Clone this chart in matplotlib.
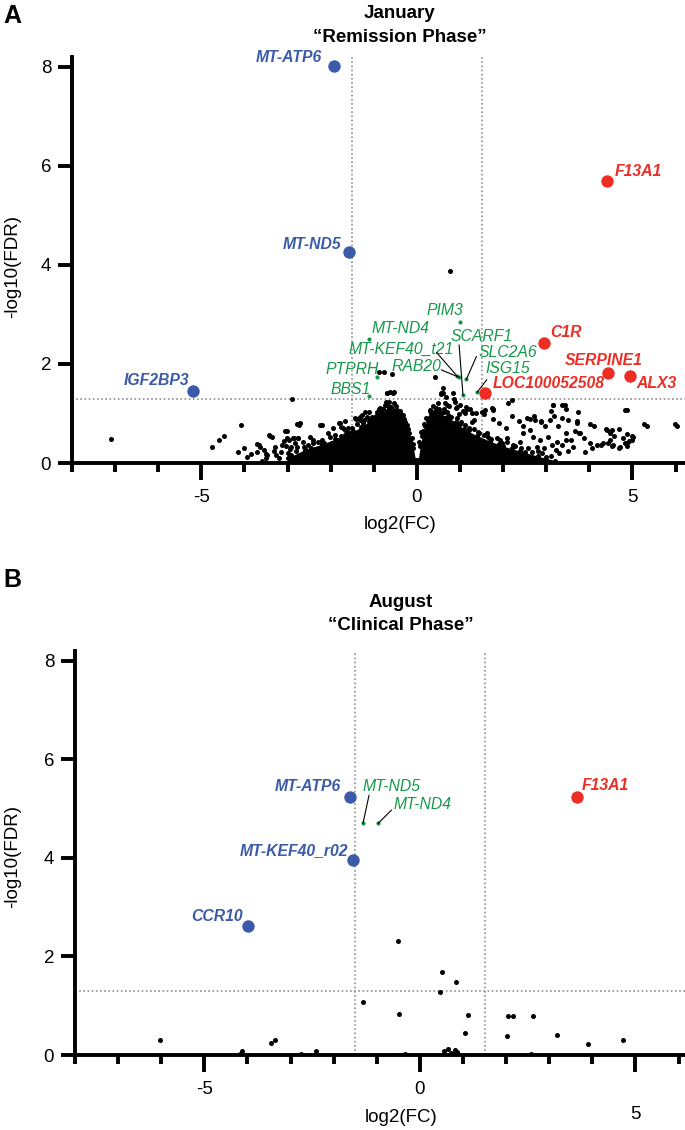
import matplotlib
matplotlib.use("Agg")
import matplotlib.pyplot as plt

#===================================================================#
#                              DATA                                 #
#===================================================================#

# panel A (January) - highlighted genes
down_a_names = ["MT-ATP6", "MT-ND5", "IGF2BP3"]
down_a_x = [-1.93, -1.58, -5.20]
down_a_y = [8.02, 4.26, 1.45]

up_a_names = ["F13A1", "C1R", "SERPINE1", "ALX3", "LOC100052508"]
up_a_x = [4.41, 2.95, 4.44, 4.94, 1.58]
up_a_y = [5.70, 2.42, 1.82, 1.76, 1.41]

mid_a_names = ["PIM3", "MT-ND4", "PTPRH", "BBS1", "MT-KEF40_t21", "RAB20", "SLC2A6", "SCARF1", "ISG15"]
mid_a_x = [1.01, -1.11, -0.92, -1.10, 0.94, 0.98, 1.15, 1.07, 1.40]
mid_a_y = [2.85, 2.51, 1.74, 1.35, 1.75, 1.73, 1.69, 1.37, 1.43]

# dense core of the January cloud (outline of the solid black area)
core_left_x = [-3.0, -2.6, -2.2, -1.9, -1.6, -1.3, -1.1, -0.9, -0.7, -0.55, -0.4, -0.3, -0.2, -0.1, -0.03]
core_left_y = [0.10, 0.27, 0.38, 0.48, 0.58, 0.72, 0.85, 0.97, 1.05, 1.08, 1.00, 0.88, 0.68, 0.38, 0.06]
core_right_x = [0.03, 0.08, 0.15, 0.25, 0.40, 0.55, 0.70, 0.90, 1.10, 1.40, 1.70, 2.00, 2.40, 2.80, 3.20]
core_right_y = [0.06, 0.35, 0.65, 0.85, 0.98, 1.00, 0.93, 0.82, 0.68, 0.55, 0.44, 0.34, 0.24, 0.14, 0.05]

# other January genes (x, y)
cloud_a = [
    (-7.09, 0.48),
    (-4.76, 0.32), (-4.60, 0.46), (-4.47, 0.55), (-4.09, 0.76), (-4.14, 0.22), (-4.01, 0.30),
    (-3.71, 0.38), (-3.67, 0.37), (-3.71, 0.23), (-3.48, 0.16), (-3.40, 0.55), (-3.36, 0.52),
    (-3.31, 0.25), (-3.27, 0.16), (-3.06, 0.65), (-3.02, 0.51), (-2.96, 0.47), (-3.08, 0.44),
    (-3.04, 0.34), (-2.91, 0.32), (-2.83, 0.41), (-2.75, 0.50), (-2.79, 0.78), (-2.71, 0.80),
    (-2.89, 1.29), (-2.99, 0.20), (-2.91, 0.17), (-3.64, 0.32), (-3.49, 0.19), (-3.42, 0.56),
    (-3.12, 0.37), (-3.02, 0.64), (-2.85, 0.50), (-2.74, 0.76),
    (-2.57, 0.27), (-2.52, 0.37), (-2.41, 0.47), (-2.36, 0.16), (-2.21, 0.77), (-2.11, 0.24),
    (-2.06, 0.34), (-1.96, 0.41), (-1.81, 0.81), (-1.66, 0.85), (-1.56, 0.61), (-1.51, 0.71),
    (-1.41, 0.88), (-1.31, 0.93), (-1.11, 1.02), (-0.86, 1.12), (-0.70, 1.42), (-0.55, 1.41),
    (-0.75, 1.18), (-0.50, 1.05), (-0.45, 1.02), (-0.87, 1.84), (-0.77, 1.84), (-0.57, 1.79),
    (-0.69, 1.41), (-0.63, 1.44), (-0.53, 1.44), (-0.64, 1.24), (-0.59, 1.14), (-0.47, 1.07),
    (-0.43, 0.97), (-0.87, 1.10), (-0.82, 1.00), (-1.75, 0.73), (-1.67, 0.67), (-1.59, 0.70),
    (-1.67, 0.57), (-1.55, 0.53), (-1.86, 0.46), (-2.25, 0.77), (-1.94, 0.70), (-2.06, 0.60),
    (-2.48, 0.53), (-2.75, 0.50), (-2.64, 0.43), (-2.87, 0.50), (-2.79, 0.33), (-2.41, 0.40),
    (-2.21, 0.46), (-1.28, 0.97), (-1.21, 1.04), (-1.44, 0.90), (-1.09, 0.87), (-0.97, 0.80),
    (-1.32, 0.87), (-1.79, 0.80), (-1.71, 0.70), (-1.63, 0.60), (-0.86, 1.07), (-0.82, 0.97),
    (-1.00, 0.85), (-0.95, 0.95), (-0.80, 1.00), (-0.65, 1.12), (-0.35, 0.90), (-0.25, 0.70),
    (-0.15, 0.45), (-3.50, 0.10), (-3.20, 0.10), (-2.70, 0.15), (-2.50, 0.12), (-2.30, 0.25),
    (-2.00, 0.20), (-1.80, 0.30),
    # grainy edge of the left lobe
    (-2.95, 0.28), (-2.80, 0.24), (-2.62, 0.33), (-2.45, 0.31), (-2.30, 0.42), (-2.15, 0.40),
    (-2.02, 0.52), (-1.90, 0.57), (-1.76, 0.55), (-1.62, 0.66), (-1.48, 0.64), (-1.38, 0.78),
    (-1.25, 0.80), (-1.16, 0.92), (-1.03, 0.93), (-0.93, 1.03), (-0.78, 1.09), (-0.68, 1.15),
    (-0.60, 1.06), (-0.48, 1.15), (-0.38, 1.06), (-0.32, 0.96), (-0.27, 0.82), (-0.22, 0.76),
    (-0.18, 0.60), (-0.12, 0.50), (-0.08, 0.30), (-0.72, 1.24), (-0.52, 1.22), (-1.22, 0.86),
    (-3.30, 0.32), (-3.15, 0.22), (-3.55, 0.27), (-3.85, 0.18), (-3.95, 0.12), (-3.60, 0.05),
    (0.42, 1.74), (0.61, 1.51), (0.57, 1.41), (0.67, 1.34), (0.84, 1.41), (0.88, 1.24),
    (0.63, 1.10), (1.23, 1.10), (1.11, 1.00), (1.38, 1.00), (1.58, 1.07), (1.27, 0.83),
    (0.30, 1.07), (0.92, 1.14), (1.15, 1.14), (1.27, 1.00), (1.50, 1.04), (1.77, 1.10),
    (0.55, 1.39), (0.60, 1.42), (0.65, 1.22), (0.75, 1.15), (0.86, 1.29), (0.91, 1.12),
    (1.01, 1.18), (1.06, 1.05), (1.16, 1.10), (0.45, 1.12), (0.30, 1.05), (0.35, 0.95),
    (1.74, 1.12), (2.11, 1.22), (1.56, 0.98), (1.76, 0.88), (1.91, 0.81),
    (2.06, 0.71), (2.21, 0.95), (2.36, 0.85), (2.46, 0.74), (2.62, 0.88), (2.72, 0.95),
    (2.87, 0.85), (2.97, 0.74), (3.15, 1.18), (3.37, 1.18), (3.45, 1.10), (3.12, 1.05),
    (3.17, 0.95), (3.72, 0.85), (3.77, 0.61), (3.87, 0.51), (4.02, 0.78),
    (4.38, 0.68), (4.48, 0.61), (4.58, 0.54), (4.68, 0.68), (4.78, 0.51), (4.88, 0.58),
    (4.93, 0.44), (4.98, 0.54), (4.83, 1.08), (5.28, 0.78), (5.99, 0.78),
    (4.07, 0.30), (4.28, 0.37), (4.43, 0.41), (4.53, 0.34), (4.68, 0.30), (4.83, 0.41),
    (4.88, 0.35), (3.27, 0.74), (3.47, 0.61), (3.57, 0.47), (3.67, 0.64),
    (2.20, 1.27), (1.77, 1.08), (3.16, 1.17), (3.43, 1.17), (3.73, 1.04), (4.87, 1.07),
    (2.55, 0.90), (2.74, 0.87), (2.89, 0.83), (3.09, 0.87), (3.36, 0.90), (3.51, 0.87),
    (3.71, 0.80), (4.11, 0.75), (5.33, 0.75), (6.03, 0.75), (4.40, 0.67), (4.52, 0.67),
    (5.02, 0.53), (4.01, 0.40), (4.17, 0.36), (4.32, 0.40), (4.48, 0.46), (4.56, 0.36),
    (4.71, 0.33), (4.87, 0.40), (4.98, 0.46), (3.05, 0.53), (3.24, 0.43), (3.47, 0.46),
    (3.78, 0.60), (3.63, 0.33), (3.36, 0.36), (3.13, 0.36), (2.62, 0.67), (2.70, 0.53),
    (2.85, 0.46), (2.47, 0.60), (2.39, 0.43), (2.23, 0.36), (2.08, 0.50), (1.93, 0.46),
    (1.81, 0.33), (2.78, 0.33), (0.12, 0.55), (0.20, 0.75), (0.30, 0.92), (0.50, 1.02),
    (0.75, 0.95), (1.00, 0.78), (1.20, 0.70), (1.45, 0.60), (1.65, 0.52), (1.90, 0.38),
    (2.20, 0.30), (2.50, 0.22), (2.90, 0.20), (3.00, 0.12), (3.30, 0.20), (3.50, 0.25),
    (3.90, 0.22),
    # grainy edge of the right lobe
    (0.06, 0.42), (0.10, 0.62), (0.16, 0.78), (0.22, 0.90), (0.33, 1.00), (0.42, 1.06),
    (0.52, 1.10), (0.62, 1.02), (0.70, 1.04), (0.80, 0.92), (0.92, 0.90), (1.02, 0.82),
    (1.12, 0.76), (1.22, 0.66), (1.33, 0.68), (1.42, 0.62), (1.55, 0.56), (1.62, 0.60),
    (1.72, 0.49), (1.85, 0.50), (1.97, 0.40), (2.10, 0.42), (2.28, 0.34), (2.42, 0.30),
    (2.58, 0.31), (2.68, 0.22), (2.82, 0.24), (2.95, 0.30), (3.10, 0.15), (3.22, 0.27),
    (0.38, 1.15), (0.48, 1.22), (0.70, 1.18), (0.98, 0.98), (1.32, 0.86),
    (0.76, 3.88),
]

# panel B (August) - highlighted genes
down_b_names = ["MT-ATP6", "MT-KEF40_r02", "CCR10"]
down_b_x = [-1.62, -1.55, -3.98]
down_b_y = [5.23, 3.96, 2.61]

up_b_names = ["F13A1"]
up_b_x = [3.64]
up_b_y = [5.23]

mid_b_names = ["MT-ND5", "MT-ND4"]
mid_b_x = [-1.32, -0.97]
mid_b_y = [4.70, 4.70]

# other August genes
cloud_b_x = [-6.03, -4.13, -4.18, -3.45, -3.35, -2.75, -2.42, -1.31, -0.51, -0.49, -0.58, -0.34,
             0.51, 0.84, 0.46, 1.11, 1.04, 0.55, 0.65, 0.72, 0.82, 0.86, 0.78,
             2.03, 2.05, 2.15, 2.63, 2.58, 3.18, 3.90, 4.71]
cloud_b_y = [0.30, 0.09, 0.03, 0.25, 0.30, 0.03, 0.09, 1.07, 2.32, 0.84, 0.01, 0.03,
             1.68, 1.48, 1.28, 0.82, 0.45, 0.09, 0.12, 0.05, 0.10, 0.07, 0.03,
             0.38, 0.80, 0.80, 0.80, 0.03, 0.40, 0.23, 0.30]

fc_cut = 1.5
fdr_cut = 1.301

#===================================================================#
#                             PLOTTING                              #
#===================================================================#

plt.rcParams['font.family'] = ['Liberation Sans', 'DejaVu Sans']
plt.rcParams['axes.unicode_minus'] = False

BLUE = '#3B5BA9'
RED = '#EC2E25'
GREEN = '#16994A'
GRAY = '#8F8F8F'

W, H = 685.0, 1130.0
fig = plt.figure(figsize=(6.85, 11.3), dpi=100)
axA = fig.add_axes([72 / W, 1 - 463 / H, 613 / W, 406 / H])
axB = fig.add_axes([75 / W, 1 - 1055 / H, 610 / W, 404 / H])


def style_axis(ax, xmax):
    for s in ['top', 'right']:
        ax.spines[s].set_visible(False)
    for s in ['left', 'bottom']:
        ax.spines[s].set_linewidth(2.8)
    ax.set_xlim(-8, xmax)
    ax.set_ylim(0, 8.2)
    ax.set_xticks([-5, 0, 5])
    ax.set_xticks(range(-8, 7), minor=True)
    ax.set_yticks([0, 2, 4, 6, 8])
    ax.tick_params(axis='x', which='major', length=12, width=2.8, labelsize=13.5, pad=7)
    ax.tick_params(axis='x', which='minor', length=6.5, width=2.8)
    ax.tick_params(axis='y', length=10, width=2.8, labelsize=13.5, pad=5)
    ax.axhline(fdr_cut, color=GRAY, lw=1.2, ls=(0, (1, 1.5)), zorder=1)
    ax.axvline(-fc_cut, color=GRAY, lw=1.2, ls=(0, (1, 1.5)), zorder=1)
    ax.axvline(fc_cut, color=GRAY, lw=1.2, ls=(0, (1, 1.5)), zorder=1)


style_axis(axA, 6.22)
style_axis(axB, 6.15)

lab = dict(fontsize=11.3, style='italic', va='center')

# ---- panel A
axA.fill_between(core_left_x, 0, core_left_y, color='black', lw=0, zorder=2)
axA.fill_between(core_right_x, 0, core_right_y, color='black', lw=0, zorder=2)
axA.scatter(core_left_x + core_right_x, core_left_y + core_right_y, s=13, color='black', lw=0, zorder=2)
cx, cy = zip(*cloud_a)
axA.scatter(cx, cy, s=13, color='black', lw=0, zorder=2)
axA.scatter(mid_a_x, mid_a_y, s=9, color=GREEN, lw=0, zorder=3)
axA.scatter(down_a_x, down_a_y, s=80, color=BLUE, lw=0, zorder=4)
axA.scatter(up_a_x, up_a_y, s=80, color=RED, lw=0, zorder=4)

# label positions (data units)
down_a_tx = [(-2.20, 8.20), (-1.76, 4.42), (-5.28, 1.66)]
for name, (tx, ty) in zip(down_a_names, down_a_tx):
    axA.text(tx, ty, name, color=BLUE, fontweight='bold', ha='right', **lab)
up_a_tx = [(4.59, 5.88), (3.10, 2.63), (3.43, 2.07), (5.10, 1.61), (1.77, 1.60)]
for name, (tx, ty) in zip(up_a_names, up_a_tx):
    axA.text(tx, ty, name, color=RED, fontweight='bold', ha='left', **lab)
mid_a_tx = [(0.23, 3.07), (-1.05, 2.72), (-2.13, 1.89), (-2.00, 1.49), (-1.59, 2.30),
            (-0.59, 1.95), (1.42, 2.23), (0.77, 2.55), (1.58, 1.91)]
for name, (tx, ty) in zip(mid_a_names, mid_a_tx):
    axA.text(tx, ty, name, color=GREEN, ha='left', **lab)
# leader lines
lead_a = {"MT-KEF40_t21": (0.46, 2.23), "RAB20": (0.57, 1.88), "SLC2A6": (1.38, 2.15),
          "SCARF1": (0.98, 2.38), "ISG15": (1.62, 1.68)}
for name, (lx, ly) in lead_a.items():
    i = mid_a_names.index(name)
    axA.plot([lx, mid_a_x[i]], [ly, mid_a_y[i]], color='black', lw=0.8, zorder=3)

axA.text(-0.4, 9.07, "January", fontsize=13.5, fontweight='bold', ha='center', va='center', clip_on=False)
axA.text(-0.4, 8.60, "\u201cRemission Phase\u201d", fontsize=13.5, fontweight='bold', ha='center', va='center', clip_on=False)

# ---- panel B
axB.scatter(cloud_b_x, cloud_b_y, s=13, color='black', lw=0, zorder=2)
axB.scatter(mid_b_x, mid_b_y, s=9, color=GREEN, lw=0, zorder=3)
axB.scatter(down_b_x, down_b_y, s=80, color=BLUE, lw=0, zorder=4)
axB.scatter(up_b_x, up_b_y, s=80, color=RED, lw=0, zorder=4)

down_b_tx = [(-1.82, 5.44), (-1.66, 4.14), (-4.11, 2.81)]
for name, (tx, ty) in zip(down_b_names, down_b_tx):
    axB.text(tx, ty, name, color=BLUE, fontweight='bold', ha='right', **lab)
axB.text(3.75, 5.46, up_b_names[0], color=RED, fontweight='bold', ha='left', **lab)
mid_b_tx = [(-1.32, 5.44), (-0.62, 5.09)]
for name, (tx, ty) in zip(mid_b_names, mid_b_tx):
    axB.text(tx, ty, name, color=GREEN, ha='left', **lab)
lead_b = [(-1.18, 5.27), (-0.66, 4.97)]
for (lx, ly), px, py in zip(lead_b, mid_b_x, mid_b_y):
    axB.plot([lx, px], [ly, py], color='black', lw=0.8, zorder=3)

axB.text(-0.45, 9.19, "August", fontsize=13.5, fontweight='bold', ha='center', va='center', clip_on=False)
axB.text(-0.45, 8.72, "\u201cClinical Phase\u201d", fontsize=13.5, fontweight='bold', ha='center', va='center', clip_on=False)

# the "5" label of panel B sits lower in the original
axB.xaxis.get_major_ticks()[2].set_pad(25)

# axis titles
fig.text(13 / W, 1 - 266 / H, "-log10(FDR)", rotation=90, fontsize=13.5, ha='center', va='center')
fig.text(13 / W, 1 - 856 / H, "-log10(FDR)", rotation=90, fontsize=13.5, ha='center', va='center')
fig.text(400 / W, 1 - 525 / H, "log2(FC)", fontsize=13.5, ha='center', va='center')
fig.text(401 / W, 1 - 1117 / H, "log2(FC)", fontsize=13.5, ha='center', va='center')

# panel letters
fig.text(3 / W, 1 - 16 / H, "A", fontsize=18, fontweight='bold', ha='left', va='center')
fig.text(3 / W, 1 - 580 / H, "B", fontsize=18, fontweight='bold', ha='left', va='center')

fig.savefig("out.png", dpi=100)
